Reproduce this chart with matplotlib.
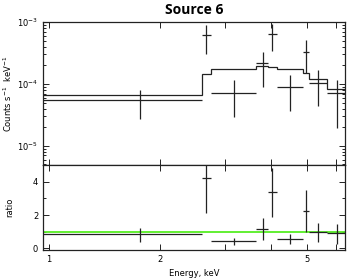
import matplotlib
matplotlib.use('Agg')
import matplotlib.pyplot as plt
from matplotlib.ticker import FixedLocator, FixedFormatter, MultipleLocator, NullLocator, LogLocator
import numpy as np

# channel bins (keV)
bin_lo = [0.95, 2.59, 2.74, 3.64, 3.93, 4.14, 4.86, 5.07, 5.65]
bin_hi = [2.59, 2.74, 3.64, 3.93, 4.14, 4.86, 5.07, 5.65, 6.4]
energy = [1.77, 2.66, 3.18, 3.79, 4.02, 4.49, 4.96, 5.36, 6.01]

# counts s^-1 keV^-1
counts = [5.5e-5, 6.17e-4, 7.24e-5, 2.16e-4, 6.3e-4, 8.85e-5, 3.24e-4, 1.05e-4, 7.1e-5]
counts_lo = [2.7e-5, 3.0e-4, 2.97e-5, 9.06e-5, 3.44e-4, 3.72e-5, 1.48e-4, 4.4e-5, 1.93e-5]
counts_hi = [8.0e-5, 8.9e-4, 1.16e-4, 3.32e-4, 9.3e-4, 1.40e-4, 5.13e-4, 1.69e-4, 1.16e-4]
model = [6.6e-5, 1.42e-4, 1.75e-4, 1.95e-4, 1.85e-4, 1.72e-4, 1.49e-4, 1.19e-4, 8.2e-5]

# data / model
ratio = [0.84, 4.24, 0.44, 1.14, 3.36, 0.56, 2.24, 0.96, 0.90]
ratio_lo = [0.40, 2.14, 0.20, 0.50, 1.86, 0.26, 1.00, 0.40, 0.26]
ratio_hi = [1.24, 6.30, 0.60, 1.80, 4.80, 0.84, 3.50, 1.50, 1.46]

e = np.array(energy)
xerr = [e - np.array(bin_lo), np.array(bin_hi) - e]
edges = bin_lo + [bin_hi[-1]]

fig = plt.figure(figsize=(3.59, 2.80), dpi=100)
ax1 = fig.add_axes([0.120, 0.4107, 0.841, 0.5107])
ax2 = fig.add_axes([0.120, 0.1071, 0.841, 0.3036])

col = '#222222'
lw = 0.9

# top panel
ax1.stairs(model, edges, color=col, lw=lw)
c = np.array(counts)
ax1.errorbar(e, c, xerr=xerr,
             yerr=[c - np.array(counts_lo), np.array(counts_hi) - c],
             fmt='none', ecolor=col, elinewidth=lw, capsize=0)
ax1.set_xscale('log')
ax1.set_yscale('log')
ax1.set_xlim(0.965, 6.33)
ax1.set_ylim(4.9e-6, 1e-3)
ax1.set_ylabel('Counts s$^{-1}$  keV$^{-1}$', fontsize=6)
ax1.yaxis.set_label_coords(-0.095, 0.5)
ax1.set_title('Source 6', fontsize=10, fontweight='bold', family='Open Sans', pad=6)

# bottom panel
ax2.axhline(1.0, color='#55ee22', lw=1.3)
r = np.array(ratio)
ax2.errorbar(e, r, xerr=xerr,
             yerr=[r - np.array(ratio_lo), np.array(ratio_hi) - r],
             fmt='none', ecolor=col, elinewidth=lw, capsize=0)
ax2.set_xscale('log')
ax2.set_xlim(0.965, 6.33)
ax2.set_ylim(-0.1, 5.0)
ax2.set_ylabel('ratio', fontsize=6)
ax2.yaxis.set_label_coords(-0.095, 0.5)
ax2.set_xlabel('Energy, keV', fontsize=6, labelpad=4)
ax2.yaxis.set_major_locator(MultipleLocator(2))
ax2.yaxis.set_minor_locator(MultipleLocator(1))

for ax in (ax1, ax2):
    ax.xaxis.set_major_locator(FixedLocator([1, 2, 3, 4, 5, 6]))
    ax.xaxis.set_minor_locator(NullLocator())
    ax.tick_params(which='both', direction='in', top=True, right=True,
                   labelsize=6, width=0.7, color=col)
    ax.tick_params(which='major', length=4)
    ax.tick_params(which='minor', length=2)
    for s in ax.spines.values():
        s.set_linewidth(0.9)
        s.set_color(col)

ax1.yaxis.set_minor_locator(LogLocator(base=10, subs=np.arange(2, 10)))
ax1.tick_params(axis='x', labelbottom=False)
ax2.xaxis.set_major_formatter(FixedFormatter(['1', '2', '', '', '5', '']))

fig.savefig('out.png', dpi=100)
